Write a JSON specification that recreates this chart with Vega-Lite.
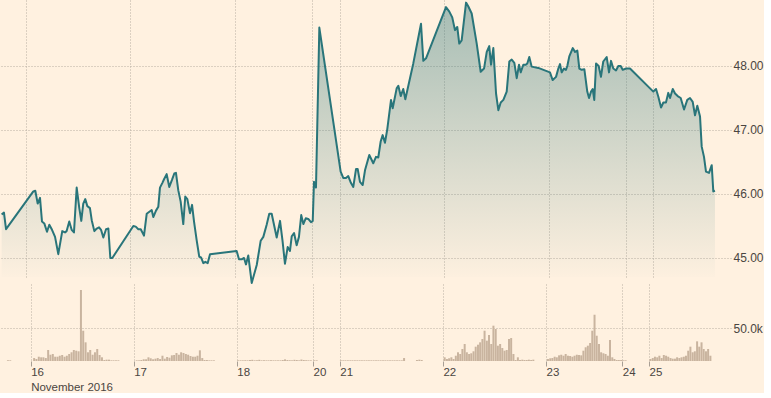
{
  "$schema": "https://vega.github.io/schema/vega-lite/v6.json",
  "background": "#fff1e0",
  "padding": 0,
  "spacing": 0,
  "config": {
    "view": {"stroke": null},
    "axis": {
      "labelFont": "Liberation Sans",
      "labelFontSize": 12,
      "labelColor": "#4a4541",
      "gridColor": "#b9afa3",
      "gridDash": [1, 2],
      "gridWidth": 1,
      "domain": false,
      "tickColor": "#a89f95",
      "title": null
    }
  },
  "resolve": {"scale": {"x": "independent", "y": "independent"}},
  "datasets": {
    "price": [
      {"t": -0.233, "p": 45.68}, {"t": -0.211, "p": 45.71}, {"t": -0.191, "p": 45.45},
      {"t": 0.070, "p": 46.04}, {"t": 0.089, "p": 46.05}, {"t": 0.112, "p": 45.85}, {"t": 0.134, "p": 45.94},
      {"t": 0.153, "p": 45.57}, {"t": 0.175, "p": 45.54}, {"t": 0.201, "p": 45.41}, {"t": 0.223, "p": 45.52},
      {"t": 0.249, "p": 45.44}, {"t": 0.278, "p": 45.33}, {"t": 0.309, "p": 45.06}, {"t": 0.347, "p": 45.42},
      {"t": 0.373, "p": 45.40}, {"t": 0.389, "p": 45.42}, {"t": 0.414, "p": 45.57}, {"t": 0.437, "p": 45.44},
      {"t": 0.459, "p": 45.40}, {"t": 0.485, "p": 46.10}, {"t": 0.510, "p": 45.78}, {"t": 0.529, "p": 45.58},
      {"t": 0.548, "p": 45.85}, {"t": 0.567, "p": 45.92}, {"t": 0.587, "p": 45.81}, {"t": 0.612, "p": 45.78},
      {"t": 0.629, "p": 45.59}, {"t": 0.654, "p": 45.42}, {"t": 0.677, "p": 45.46}, {"t": 0.699, "p": 45.48},
      {"t": 0.718, "p": 45.44}, {"t": 0.740, "p": 45.32}, {"t": 0.766, "p": 45.45}, {"t": 0.788, "p": 45.46},
      {"t": 0.807, "p": 45.00}, {"t": 0.826, "p": 45.00},
      {"t": 1.027, "p": 45.50}, {"t": 1.050, "p": 45.49}, {"t": 1.075, "p": 45.45}, {"t": 1.098, "p": 45.45},
      {"t": 1.129, "p": 45.35}, {"t": 1.155, "p": 45.69}, {"t": 1.187, "p": 45.73}, {"t": 1.203, "p": 45.75},
      {"t": 1.218, "p": 45.64}, {"t": 1.244, "p": 45.74}, {"t": 1.266, "p": 45.80}, {"t": 1.282, "p": 46.10},
      {"t": 1.304, "p": 46.17}, {"t": 1.321, "p": 46.23}, {"t": 1.346, "p": 46.31}, {"t": 1.371, "p": 46.11},
      {"t": 1.397, "p": 46.22}, {"t": 1.419, "p": 46.32}, {"t": 1.435, "p": 46.33}, {"t": 1.457, "p": 46.06},
      {"t": 1.480, "p": 45.88}, {"t": 1.505, "p": 45.53}, {"t": 1.524, "p": 45.96}, {"t": 1.544, "p": 45.92},
      {"t": 1.569, "p": 45.70}, {"t": 1.589, "p": 45.83}, {"t": 1.608, "p": 45.57}, {"t": 1.633, "p": 45.28},
      {"t": 1.658, "p": 45.02}, {"t": 1.675, "p": 45.01}, {"t": 1.697, "p": 44.92}, {"t": 1.716, "p": 44.94},
      {"t": 1.739, "p": 44.92}, {"t": 1.761, "p": 45.06},
      {"t": 2.016, "p": 45.11}, {"t": 2.038, "p": 44.98}, {"t": 2.064, "p": 44.98}, {"t": 2.086, "p": 45.00},
      {"t": 2.105, "p": 44.90}, {"t": 2.127, "p": 45.04}, {"t": 2.160, "p": 44.61}, {"t": 2.208, "p": 44.89},
      {"t": 2.246, "p": 45.27}, {"t": 2.271, "p": 45.33}, {"t": 2.303, "p": 45.52}, {"t": 2.328, "p": 45.69},
      {"t": 2.351, "p": 45.69}, {"t": 2.399, "p": 45.32}, {"t": 2.431, "p": 45.58}, {"t": 2.456, "p": 45.25},
      {"t": 2.478, "p": 44.91}, {"t": 2.504, "p": 45.17}, {"t": 2.526, "p": 45.11}, {"t": 2.543, "p": 45.34},
      {"t": 2.565, "p": 45.39}, {"t": 2.590, "p": 45.20}, {"t": 2.612, "p": 45.33}, {"t": 2.634, "p": 45.67},
      {"t": 2.654, "p": 45.53}, {"t": 2.677, "p": 45.62}, {"t": 2.701, "p": 45.61}, {"t": 2.727, "p": 45.56},
      {"t": 2.744, "p": 45.58}, {"t": 2.756, "p": 46.19}, {"t": 2.775, "p": 46.10}, {"t": 2.807, "p": 48.60},
      {"t": 3.011, "p": 46.35}, {"t": 3.036, "p": 46.25}, {"t": 3.062, "p": 46.25}, {"t": 3.084, "p": 46.28},
      {"t": 3.110, "p": 46.17}, {"t": 3.132, "p": 46.11}, {"t": 3.158, "p": 46.39}, {"t": 3.174, "p": 46.39},
      {"t": 3.196, "p": 46.19}, {"t": 3.222, "p": 46.14}, {"t": 3.244, "p": 46.37}, {"t": 3.285, "p": 46.61},
      {"t": 3.323, "p": 46.48}, {"t": 3.349, "p": 46.58}, {"t": 3.371, "p": 46.57}, {"t": 3.394, "p": 46.82},
      {"t": 3.413, "p": 46.92}, {"t": 3.435, "p": 46.80}, {"t": 3.457, "p": 47.01}, {"t": 3.493, "p": 47.47},
      {"t": 3.509, "p": 47.34}, {"t": 3.547, "p": 47.65}, {"t": 3.563, "p": 47.69}, {"t": 3.586, "p": 47.53},
      {"t": 3.610, "p": 47.64}, {"t": 3.630, "p": 47.48}, {"t": 3.706, "p": 48.04}, {"t": 3.780, "p": 48.66},
      {"t": 3.802, "p": 48.08}, {"t": 3.828, "p": 48.12},
      {"t": 4.019, "p": 48.92}, {"t": 4.051, "p": 48.85}, {"t": 4.079, "p": 48.76}, {"t": 4.105, "p": 48.56},
      {"t": 4.127, "p": 48.61}, {"t": 4.146, "p": 48.35}, {"t": 4.169, "p": 48.40}, {"t": 4.211, "p": 48.99},
      {"t": 4.233, "p": 48.93}, {"t": 4.265, "p": 48.82}, {"t": 4.313, "p": 48.35}, {"t": 4.351, "p": 47.91},
      {"t": 4.383, "p": 47.96}, {"t": 4.409, "p": 48.22}, {"t": 4.433, "p": 48.31}, {"t": 4.450, "p": 48.02},
      {"t": 4.472, "p": 48.28}, {"t": 4.498, "p": 47.57}, {"t": 4.520, "p": 47.31}, {"t": 4.543, "p": 47.43},
      {"t": 4.568, "p": 47.47}, {"t": 4.600, "p": 47.60}, {"t": 4.625, "p": 48.07}, {"t": 4.648, "p": 48.10},
      {"t": 4.673, "p": 48.05}, {"t": 4.696, "p": 47.81}, {"t": 4.718, "p": 48.02}, {"t": 4.734, "p": 47.90},
      {"t": 4.759, "p": 48.02}, {"t": 4.782, "p": 48.02}, {"t": 4.797, "p": 48.04}, {"t": 4.816, "p": 48.14},
      {"t": 4.839, "p": 47.99}, {"t": 4.902, "p": 47.97},
      {"t": 5.014, "p": 47.90}, {"t": 5.040, "p": 47.78}, {"t": 5.072, "p": 47.83}, {"t": 5.094, "p": 47.96},
      {"t": 5.110, "p": 48.03}, {"t": 5.126, "p": 47.90}, {"t": 5.148, "p": 47.96}, {"t": 5.167, "p": 47.94},
      {"t": 5.180, "p": 48.00}, {"t": 5.199, "p": 48.15}, {"t": 5.232, "p": 48.28}, {"t": 5.254, "p": 48.22},
      {"t": 5.276, "p": 48.24}, {"t": 5.295, "p": 47.96}, {"t": 5.318, "p": 47.94}, {"t": 5.343, "p": 47.95},
      {"t": 5.371, "p": 47.60}, {"t": 5.388, "p": 47.50}, {"t": 5.407, "p": 47.60}, {"t": 5.423, "p": 47.64},
      {"t": 5.438, "p": 47.47}, {"t": 5.455, "p": 48.04}, {"t": 5.480, "p": 48.00}, {"t": 5.502, "p": 47.83},
      {"t": 5.524, "p": 48.07}, {"t": 5.557, "p": 48.14}, {"t": 5.579, "p": 47.90}, {"t": 5.598, "p": 48.08},
      {"t": 5.620, "p": 47.96}, {"t": 5.646, "p": 47.93}, {"t": 5.668, "p": 48.00}, {"t": 5.691, "p": 48.00},
      {"t": 5.710, "p": 47.94}, {"t": 5.742, "p": 47.96}, {"t": 5.780, "p": 47.96},
      {"t": 6.003, "p": 47.60}, {"t": 6.029, "p": 47.64}, {"t": 6.051, "p": 47.52}, {"t": 6.077, "p": 47.35},
      {"t": 6.099, "p": 47.43}, {"t": 6.124, "p": 47.43}, {"t": 6.146, "p": 47.58}, {"t": 6.163, "p": 47.50},
      {"t": 6.189, "p": 47.64}, {"t": 6.211, "p": 47.57}, {"t": 6.236, "p": 47.53}, {"t": 6.265, "p": 47.50},
      {"t": 6.297, "p": 47.32}, {"t": 6.328, "p": 47.47}, {"t": 6.354, "p": 47.50}, {"t": 6.380, "p": 47.44},
      {"t": 6.402, "p": 47.23}, {"t": 6.424, "p": 47.38}, {"t": 6.450, "p": 47.21}, {"t": 6.466, "p": 46.74},
      {"t": 6.488, "p": 46.58}, {"t": 6.507, "p": 46.35}, {"t": 6.536, "p": 46.33}, {"t": 6.562, "p": 46.45},
      {"t": 6.577, "p": 46.04}, {"t": 6.593, "p": 46.05}
    ],
    "vol": [
      {"t": -0.22, "v": 1000}, {"t": -0.198, "v": 1000},
      {"t": 0.034, "v": 4500}, {"t": 0.056, "v": 3000}, {"t": 0.079, "v": 6500}, {"t": 0.102, "v": 5600},
      {"t": 0.124, "v": 5600}, {"t": 0.147, "v": 4500}, {"t": 0.170, "v": 16700}, {"t": 0.192, "v": 9500},
      {"t": 0.215, "v": 10600}, {"t": 0.238, "v": 6500}, {"t": 0.261, "v": 6500}, {"t": 0.283, "v": 8000},
      {"t": 0.306, "v": 9100}, {"t": 0.329, "v": 6500}, {"t": 0.351, "v": 8000}, {"t": 0.374, "v": 10600},
      {"t": 0.397, "v": 13200}, {"t": 0.419, "v": 16700}, {"t": 0.442, "v": 15600}, {"t": 0.465, "v": 14700},
      {"t": 0.488, "v": 107600}, {"t": 0.510, "v": 45900}, {"t": 0.533, "v": 28300}, {"t": 0.556, "v": 13200},
      {"t": 0.578, "v": 16700}, {"t": 0.601, "v": 9500}, {"t": 0.624, "v": 13200}, {"t": 0.646, "v": 18200},
      {"t": 0.669, "v": 9100}, {"t": 0.692, "v": 5600}, {"t": 0.715, "v": 1500}, {"t": 0.737, "v": 2000},
      {"t": 0.760, "v": 2000}, {"t": 0.783, "v": 1000}, {"t": 0.805, "v": 1000}, {"t": 0.828, "v": 1000},
      {"t": 0.851, "v": 1000},
      {"t": 1.029, "v": 1000}, {"t": 1.052, "v": 1000}, {"t": 1.074, "v": 1500}, {"t": 1.097, "v": 2600},
      {"t": 1.120, "v": 2600}, {"t": 1.143, "v": 5600}, {"t": 1.165, "v": 4100}, {"t": 1.188, "v": 2600},
      {"t": 1.211, "v": 3500}, {"t": 1.233, "v": 4500}, {"t": 1.256, "v": 3000}, {"t": 1.279, "v": 8000},
      {"t": 1.301, "v": 3500}, {"t": 1.324, "v": 6100}, {"t": 1.347, "v": 5000}, {"t": 1.370, "v": 8600},
      {"t": 1.392, "v": 9100}, {"t": 1.415, "v": 12100}, {"t": 1.438, "v": 9500}, {"t": 1.460, "v": 13200},
      {"t": 1.483, "v": 12100}, {"t": 1.506, "v": 10600}, {"t": 1.528, "v": 9500}, {"t": 1.551, "v": 7600},
      {"t": 1.574, "v": 6500}, {"t": 1.597, "v": 6500}, {"t": 1.619, "v": 8000}, {"t": 1.642, "v": 16200},
      {"t": 1.665, "v": 4500}, {"t": 1.687, "v": 1500}, {"t": 1.710, "v": 1500}, {"t": 1.733, "v": 1000},
      {"t": 1.755, "v": 1000}, {"t": 1.778, "v": 1000},
      {"t": 2.014, "v": 1000}, {"t": 2.037, "v": 1000}, {"t": 2.059, "v": 1000}, {"t": 2.082, "v": 1200},
      {"t": 2.105, "v": 1000}, {"t": 2.128, "v": 1500}, {"t": 2.150, "v": 1800}, {"t": 2.173, "v": 1000},
      {"t": 2.196, "v": 1000}, {"t": 2.218, "v": 1800}, {"t": 2.241, "v": 1000}, {"t": 2.264, "v": 1200},
      {"t": 2.287, "v": 1000}, {"t": 2.309, "v": 1000}, {"t": 2.332, "v": 1200}, {"t": 2.355, "v": 1000},
      {"t": 2.377, "v": 1000}, {"t": 2.400, "v": 1000}, {"t": 2.423, "v": 1000}, {"t": 2.446, "v": 1500},
      {"t": 2.468, "v": 2500}, {"t": 2.491, "v": 1500}, {"t": 2.514, "v": 1200}, {"t": 2.536, "v": 1000},
      {"t": 2.559, "v": 1800}, {"t": 2.582, "v": 1500}, {"t": 2.605, "v": 1000}, {"t": 2.627, "v": 2200},
      {"t": 2.650, "v": 1500}, {"t": 2.673, "v": 1200}, {"t": 2.695, "v": 1000}, {"t": 2.718, "v": 1000},
      {"t": 2.752, "v": 1000}, {"t": 2.775, "v": 1000},
      {"t": 3.010, "v": 1000}, {"t": 3.033, "v": 1000}, {"t": 3.055, "v": 1000}, {"t": 3.078, "v": 1000},
      {"t": 3.101, "v": 1000}, {"t": 3.123, "v": 1000}, {"t": 3.146, "v": 1000}, {"t": 3.169, "v": 1000},
      {"t": 3.192, "v": 1000}, {"t": 3.214, "v": 1000}, {"t": 3.237, "v": 1000}, {"t": 3.260, "v": 1000},
      {"t": 3.282, "v": 1000}, {"t": 3.305, "v": 1000}, {"t": 3.328, "v": 1000}, {"t": 3.351, "v": 1000},
      {"t": 3.373, "v": 1000}, {"t": 3.396, "v": 1000}, {"t": 3.419, "v": 1000}, {"t": 3.441, "v": 1000},
      {"t": 3.464, "v": 1000}, {"t": 3.487, "v": 1000}, {"t": 3.510, "v": 1000}, {"t": 3.532, "v": 1000},
      {"t": 3.555, "v": 1000}, {"t": 3.578, "v": 1000}, {"t": 3.601, "v": 1000}, {"t": 3.623, "v": 4500},
      {"t": 3.748, "v": 1500}, {"t": 3.771, "v": 2000}, {"t": 3.794, "v": 1500},
      {"t": 4.017, "v": 5600}, {"t": 4.039, "v": 3000}, {"t": 4.060, "v": 4100}, {"t": 4.082, "v": 5600},
      {"t": 4.103, "v": 3000}, {"t": 4.125, "v": 8000}, {"t": 4.146, "v": 13200}, {"t": 4.168, "v": 10600},
      {"t": 4.189, "v": 18200}, {"t": 4.211, "v": 25800}, {"t": 4.232, "v": 13200}, {"t": 4.254, "v": 10600},
      {"t": 4.275, "v": 11700}, {"t": 4.297, "v": 14700}, {"t": 4.318, "v": 21700}, {"t": 4.340, "v": 24700},
      {"t": 4.361, "v": 28300}, {"t": 4.383, "v": 33300}, {"t": 4.404, "v": 45900}, {"t": 4.426, "v": 30800},
      {"t": 4.447, "v": 39400}, {"t": 4.469, "v": 25800}, {"t": 4.490, "v": 53500}, {"t": 4.512, "v": 48500},
      {"t": 4.533, "v": 23200}, {"t": 4.555, "v": 25800}, {"t": 4.576, "v": 19700}, {"t": 4.598, "v": 15600},
      {"t": 4.619, "v": 16700}, {"t": 4.641, "v": 33300}, {"t": 4.662, "v": 34800}, {"t": 4.684, "v": 10600},
      {"t": 4.705, "v": 1500}, {"t": 4.727, "v": 5600}, {"t": 4.748, "v": 1500}, {"t": 4.770, "v": 2000},
      {"t": 4.791, "v": 1500}, {"t": 4.813, "v": 1500}, {"t": 4.834, "v": 2000}, {"t": 4.856, "v": 1500},
      {"t": 4.877, "v": 2000},
      {"t": 5.019, "v": 3000}, {"t": 5.041, "v": 4100}, {"t": 5.062, "v": 4500}, {"t": 5.084, "v": 6500},
      {"t": 5.105, "v": 5600}, {"t": 5.127, "v": 8600}, {"t": 5.148, "v": 9500}, {"t": 5.170, "v": 8000},
      {"t": 5.191, "v": 10600}, {"t": 5.213, "v": 8000}, {"t": 5.234, "v": 7600}, {"t": 5.256, "v": 6500},
      {"t": 5.277, "v": 8000}, {"t": 5.299, "v": 9500}, {"t": 5.320, "v": 9100}, {"t": 5.342, "v": 8600},
      {"t": 5.363, "v": 15600}, {"t": 5.385, "v": 20800}, {"t": 5.406, "v": 23200}, {"t": 5.428, "v": 27300},
      {"t": 5.449, "v": 45900}, {"t": 5.471, "v": 70100}, {"t": 5.492, "v": 38300}, {"t": 5.514, "v": 25800},
      {"t": 5.535, "v": 13200}, {"t": 5.557, "v": 11700}, {"t": 5.578, "v": 10600}, {"t": 5.600, "v": 8000},
      {"t": 5.621, "v": 31800}, {"t": 5.643, "v": 5600}, {"t": 5.664, "v": 3000}, {"t": 5.686, "v": 1500},
      {"t": 5.707, "v": 1500}, {"t": 5.729, "v": 1500}, {"t": 5.752, "v": 1000}, {"t": 5.773, "v": 1000},
      {"t": 6.014, "v": 3000}, {"t": 6.036, "v": 4500}, {"t": 6.057, "v": 6500}, {"t": 6.079, "v": 5600},
      {"t": 6.100, "v": 8000}, {"t": 6.122, "v": 4500}, {"t": 6.143, "v": 9100}, {"t": 6.165, "v": 8000},
      {"t": 6.186, "v": 6500}, {"t": 6.208, "v": 4500}, {"t": 6.229, "v": 3500}, {"t": 6.251, "v": 3500},
      {"t": 6.272, "v": 5600}, {"t": 6.294, "v": 4500}, {"t": 6.315, "v": 5600}, {"t": 6.337, "v": 6500},
      {"t": 6.358, "v": 8000}, {"t": 6.380, "v": 15600}, {"t": 6.401, "v": 21700}, {"t": 6.423, "v": 13200},
      {"t": 6.444, "v": 14700}, {"t": 6.466, "v": 29800}, {"t": 6.487, "v": 21700}, {"t": 6.509, "v": 28300},
      {"t": 6.530, "v": 18200}, {"t": 6.552, "v": 14700}, {"t": 6.573, "v": 18200}, {"t": 6.595, "v": 8000}
    ]
  },
  "vconcat": [
    {
      "width": 731,
      "height": 277,
      "data": {"name": "price"},
      "encoding": {
        "x": {
          "field": "t", "type": "quantitative",
          "scale": {"domain": [-0.2488, 6.7464], "nice": false, "zero": false},
          "axis": {"values": [0, 1, 2, 2.74, 3, 4, 5, 5.74, 6], "labels": false, "ticks": false, "domain": false, "grid": true}
        },
        "y": {
          "field": "p", "type": "quantitative", "stack": null,
          "scale": {"domain": [44.703, 49.031], "nice": false, "zero": false},
          "axis": {"orient": "right", "values": [45, 46, 47, 48], "format": ".2f", "ticks": false, "domain": false, "labelPadding": 2, "grid": true}
        }
      },
      "layer": [
        {
          "mark": {
            "type": "area",
            "color": {
              "gradient": "linear", "x1": 0, "y1": 0, "x2": 0, "y2": 1,
              "stops": [
                {"offset": 0, "color": "rgba(42,116,120,0.42)"},
                {"offset": 1, "color": "rgba(42,116,120,0)"}
              ]
            }
          }
        },
        {
          "mark": {"type": "line", "color": "#29757a", "strokeWidth": 2, "strokeJoin": "round"}
        }
      ]
    },
    {
      "width": 731,
      "height": 77,
      "data": {"name": "vol"},
      "mark": {"type": "bar", "size": 2, "color": "#c9b49f"},
      "encoding": {
        "x": {
          "field": "t", "type": "quantitative",
          "scale": {"domain": [-0.2488, 6.7464], "nice": false, "zero": false},
          "axis": {
            "values": [0, 1, 2, 2.74, 3, 4, 5, 5.74, 6],
            "grid": true, "domain": false, "ticks": true, "tickSize": 5,
            "labelAlign": "left", "labelOffset": 0, "labelPadding": 0, "labelBaseline": "top",
            "labelFontSize": 11.5, "labelLineHeight": 15, "labelOverlap": false, "labelFlush": false,
            "labelExpr": "datum.value == 0 ? ['16', 'November 2016'] : datum.value == 1 ? '17' : datum.value == 2 ? '18' : datum.value == 2.74 ? '20' : datum.value == 3 ? '21' : datum.value == 4 ? '22' : datum.value == 5 ? '23' : datum.value == 5.74 ? '24' : '25'"
          }
        },
        "y": {
          "field": "v", "type": "quantitative",
          "scale": {"domain": [0, 116667], "nice": false},
          "axis": {"orient": "right", "values": [50000], "format": ".3s", "ticks": false, "domain": false, "labelPadding": 2, "grid": true}
        }
      }
    }
  ]
}
